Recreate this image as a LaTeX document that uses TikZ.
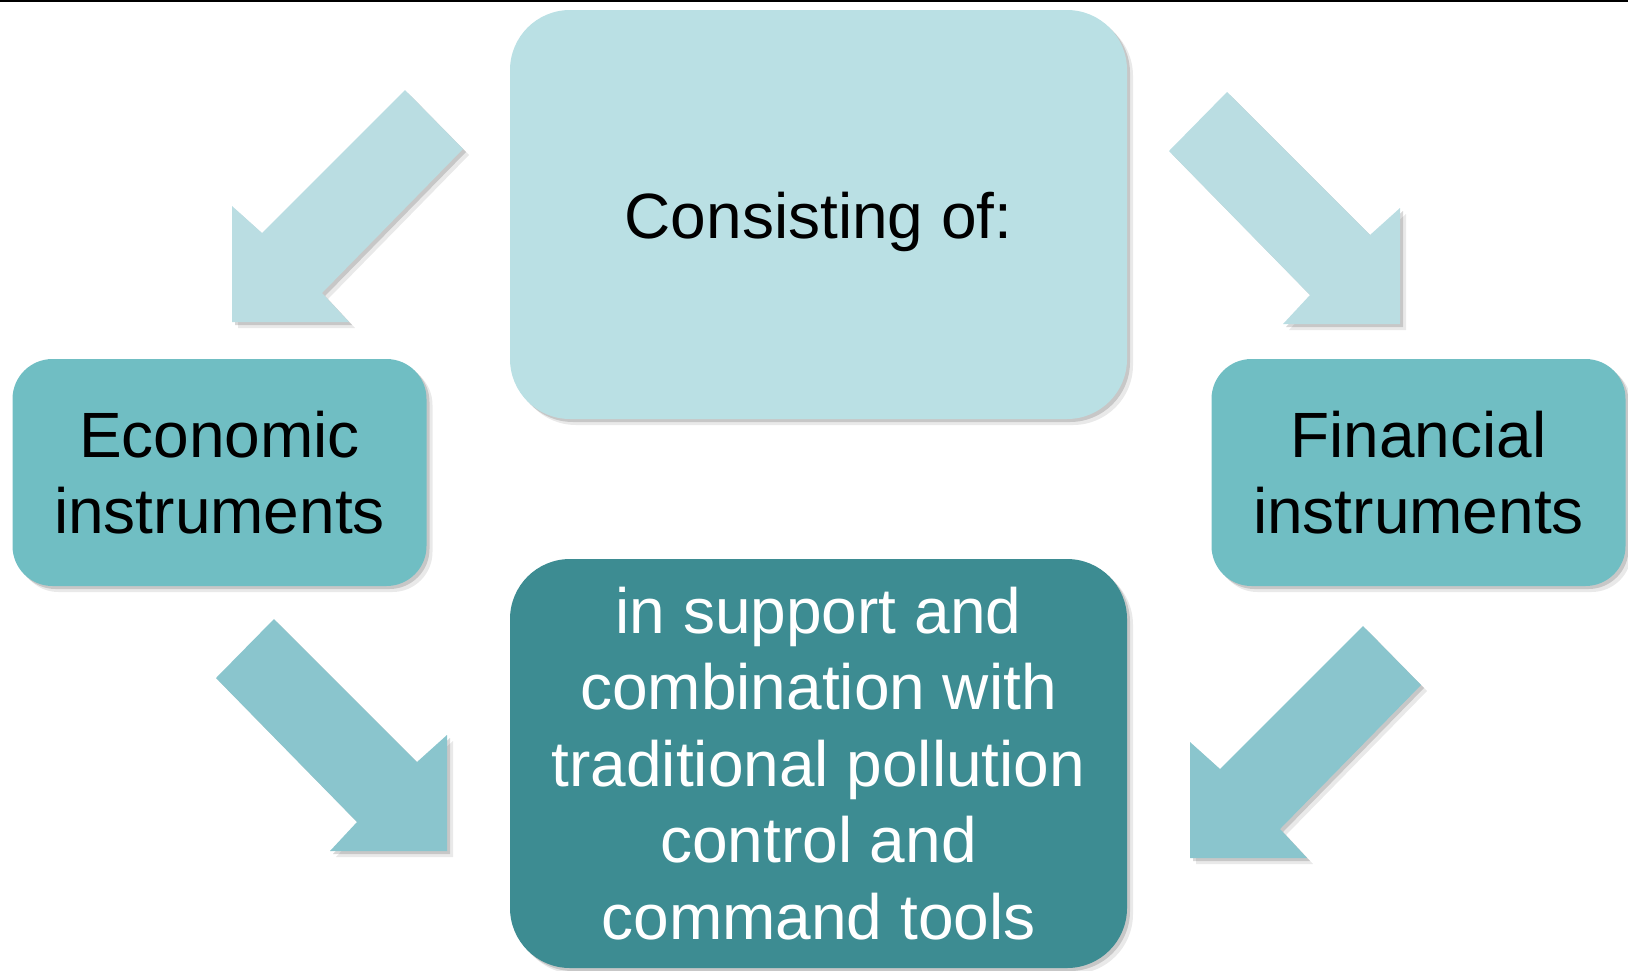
\documentclass[tikz,border=0pt]{standalone}
\usepackage{fontspec}
\setmainfont{Liberation Sans}
\usetikzlibrary{shadows, positioning}
\usepackage{xcolor}

\definecolor{paleteal}{HTML}{BAE0E4}
\definecolor{midteal}{HTML}{70BEC3}
\definecolor{darkteal}{HTML}{3D8C92}
\definecolor{palearrow}{HTML}{BADDE2}
\definecolor{midarrow}{HTML}{8AC5CD}

\begin{document}
\begin{tikzpicture}[
  x=1pt, y=-1pt,
  every node/.style={rectangle, rounded corners=60pt, inner sep=0pt,
    align=center, font=\fontsize{64}{76.5}\selectfont},
  softshadow/.style={
    drop shadow={shadow xshift=6pt, shadow yshift=-6pt, opacity=0.12, fill=black!70},
    drop shadow={shadow xshift=3pt, shadow yshift=-3pt, opacity=0.22, fill=black!70}},
  mainbox/.style={softshadow, minimum width=617pt, minimum height=409pt},
  sidebox/.style={softshadow, fill=midteal, rounded corners=40pt,
    minimum width=414pt, minimum height=227pt},
  blockarrow/.style={softshadow}
]
\useasboundingbox (0,0) rectangle (1628,970);

% block arrows, given by the corner of the head
\foreach \cx/\cy/\s/\col in {232/322/1/palearrow, 1400/324/-1/palearrow,
    447/851/-1/midarrow, 1190/858/1/midarrow}
  \fill[fill=\col, blockarrow, shift={(\cx,\cy)}]
    (0,0) -- (0,-116) -- (\s*30,-89) -- (\s*173,-232) -- (\s*231,-173)
    -- (\s*90,-29) -- (\s*117,0) -- cycle;

\node[mainbox, fill=paleteal, text height=61pt] (consist) at (818.5,214.5) {Consisting of:};
\node[mainbox, fill=darkteal, text=white] (support) at (818.5,763.5)
  {in support and\\combination with\\traditional pollution\\control and\\command tools};
\node[sidebox] (econ) at (219.5,472.5) {Economic\\instruments};
\node[sidebox] (fin) at (1418.5,472.5) {Financial\\instruments};

\draw[line width=2pt] (0,1) -- (1628,1);
\end{tikzpicture}
\end{document}
